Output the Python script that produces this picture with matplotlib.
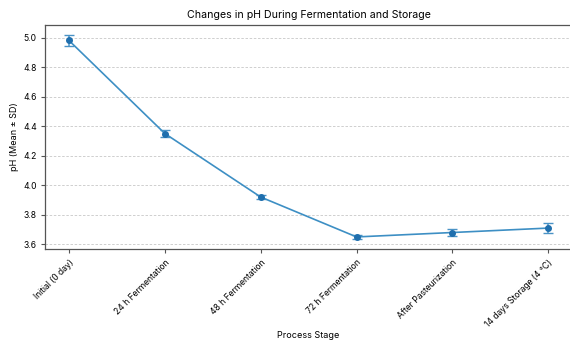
import matplotlib
matplotlib.use("Agg")
import matplotlib.pyplot as plt

stages = [
    "Initial (0 day)",
    "24 h Fermentation",
    "48 h Fermentation",
    "72 h Fermentation",
    "After Pasteurization",
    "14 days Storage (4 °C)",
]
ph_mean = [4.98, 4.35, 3.92, 3.65, 3.68, 3.71]
ph_sd = [0.035, 0.025, 0.015, 0.012, 0.022, 0.035]

plt.rcParams["font.family"] = ["Inter", "DejaVu Sans"]

fig = plt.figure(figsize=(5.7, 3.4), dpi=100)
ax = fig.add_axes([0.079, 0.268, 0.925, 0.658])

x = list(range(len(stages)))
ax.errorbar(x, ph_mean, yerr=ph_sd, fmt="-", color="#3d8fc4",
            linewidth=1.2, elinewidth=1.1, capsize=3.5, capthick=1.0,
            ecolor="#4a93c6")
ax.plot(x, ph_mean, "o", color="#1f6fae", markersize=4, zorder=3)

ax.set_xticks(x)
ax.set_xticklabels(stages, rotation=45, ha="right", rotation_mode="anchor", fontsize=6.2)
ax.tick_params(axis="y", labelsize=6.2, length=3, color="#555555", pad=3)
ax.tick_params(axis="x", length=3, color="#555555")
ax.set_xlim(-0.25, 5.25)
ax.margins(y=0.05)

ax.set_title("Changes in pH During Fermentation and Storage", fontsize=7.6, pad=5)
ax.set_xlabel("Process Stage", fontsize=6.5)
ax.xaxis.set_label_coords(0.5, -0.385)
ax.xaxis.label.set_verticalalignment("center")
ax.set_ylabel("pH (Mean ± SD)", fontsize=6.5)
ax.yaxis.set_label_coords(-0.05, 0.5)

ax.yaxis.grid(True, linestyle=(0, (3, 2)), color="#c8c8c8", linewidth=0.6)
ax.set_axisbelow(True)
for s in ax.spines.values():
    s.set_color("#555555")
    s.set_linewidth(0.9)

fig.savefig("out.png", dpi=100)
